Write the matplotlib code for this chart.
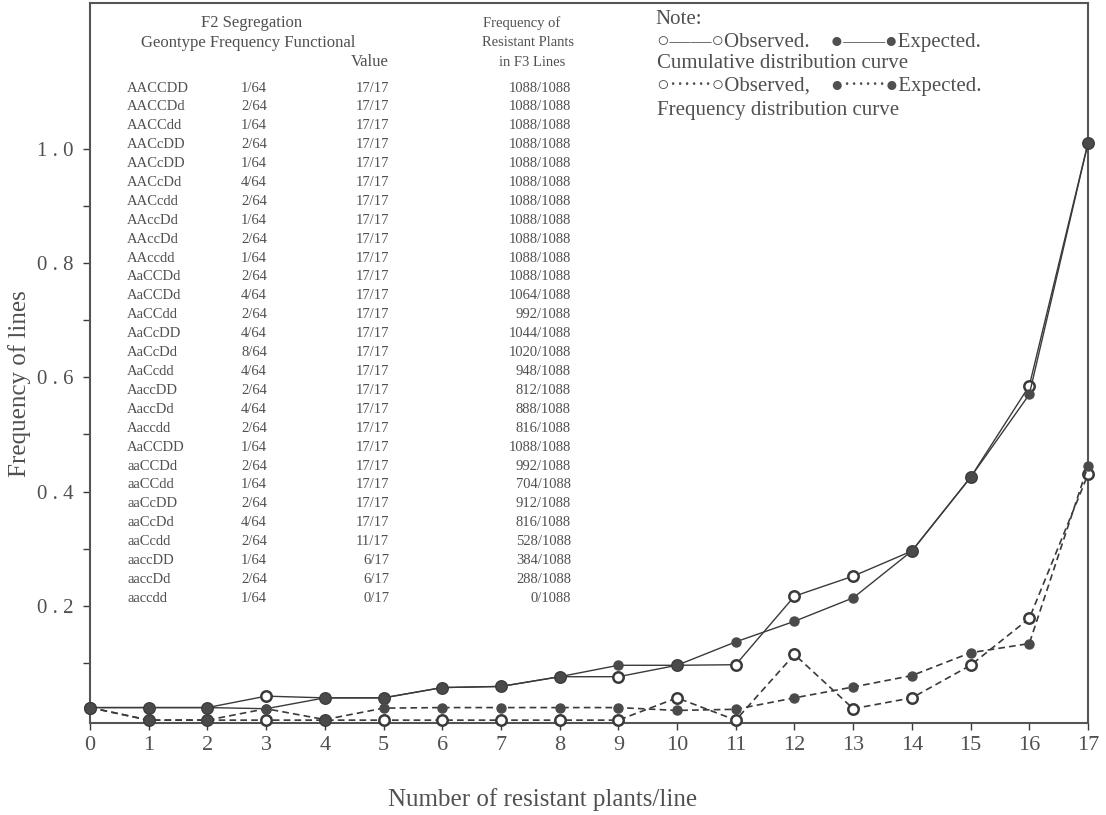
import numpy as np
import matplotlib
matplotlib.use("Agg")
import matplotlib.pyplot as plt
from matplotlib.ticker import MultipleLocator, FixedLocator

plt.rcParams["font.family"] = ["Liberation Serif", "DejaVu Sans"]

# number of resistant plants per line
x = np.arange(0, 18)

# cumulative distribution curves
cum_obs = [0.022, 0.022, 0.022, 0.042, 0.039, 0.039, 0.057, 0.059, 0.076, 0.076,
           0.096, 0.097, 0.217, 0.252, 0.296, 0.425, 0.585, 1.01]
cum_exp = [0.022, 0.022, 0.022, 0.020, 0.039, 0.039, 0.057, 0.059, 0.076, 0.096,
           0.096, 0.137, 0.173, 0.214, 0.296, 0.425, 0.570, 1.01]
# frequency distribution curves
frq_obs = [0.022, 0.0, 0.0, 0.0, 0.0, 0.0, 0.0, 0.0, 0.0, 0.0,
           0.039, 0.0, 0.115, 0.020, 0.039, 0.096, 0.178, 0.43]
frq_exp = [0.022, 0.0, 0.0, 0.020, 0.001, 0.021, 0.022, 0.022, 0.022, 0.022,
           0.017, 0.019, 0.039, 0.058, 0.078, 0.118, 0.134, 0.445]

# table of F2 segregation
genotypes = ["AACCDD", "AACCDd", "AACCdd", "AACcDD", "AACcDD", "AACcDd", "AACcdd",
             "AAccDd", "AAccDd", "AAccdd", "AaCCDd", "AaCCDd", "AaCCdd", "AaCcDD",
             "AaCcDd", "AaCcdd", "AaccDD", "AaccDd", "Aaccdd", "AaCCDD", "aaCCDd",
             "aaCCdd", "aaCcDD", "aaCcDd", "aaCcdd", "aaccDD", "aaccDd", "aaccdd"]
freqs = ["1/64", "2/64", "1/64", "2/64", "1/64", "4/64", "2/64", "1/64", "2/64", "1/64",
         "2/64", "4/64", "2/64", "4/64", "8/64", "4/64", "2/64", "4/64", "2/64", "1/64",
         "2/64", "1/64", "2/64", "4/64", "2/64", "1/64", "2/64", "1/64"]
func_vals = ["17/17"] * 24 + ["11/17", "6/17", "6/17", "0/17"]
f3_freq = ["1088/1088"] * 11 + ["1064/1088", "992/1088", "1044/1088", "1020/1088",
           "948/1088", "812/1088", "888/1088", "816/1088", "1088/1088", "992/1088",
           "704/1088", "912/1088", "816/1088", "528/1088", "384/1088", "288/1088",
           "0/1088"]

W, H = 1106, 815
fig = plt.figure(figsize=(W / 100, H / 100), dpi=100)
ax = fig.add_axes([90 / W, 1 - 723 / H, 998 / W, 720 / H])

lc = "#3a3a3a"
tc = "#505050"

dash = (0, (4, 2.5))
ax.plot(x, cum_obs, color=lc, lw=1.0, marker="o", ms=7.5, mfc="white", mec=lc, mew=1.8,
        clip_on=False, zorder=3)
ax.plot(x, cum_exp, color=lc, lw=1.0, marker="o", ms=6.5, mfc="#4a4a4a", mec="#4a4a4a",
        clip_on=False, zorder=4)
ax.plot(x, frq_obs, color=lc, lw=1.2, ls=dash, marker="o", ms=7.5, mfc="white", mec=lc,
        mew=1.8, clip_on=False, zorder=3)
ax.plot(x, frq_exp, color=lc, lw=1.2, ls=dash, marker="o", ms=6.5, mfc="#4a4a4a",
        mec="#4a4a4a", clip_on=False, zorder=4)

ax.set_xlim(0, 17)
ax.set_ylim(-0.005, 1.255)
ax.xaxis.set_major_locator(MultipleLocator(1))
ax.yaxis.set_major_locator(FixedLocator([0.2, 0.4, 0.6, 0.8, 1.0]))
ax.yaxis.set_minor_locator(FixedLocator([0.1, 0.3, 0.5, 0.7, 0.9]))
ax.set_yticklabels(["0 . 2", "0 . 4", "0 . 6", "0 . 8", "1 . 0"])
ax.tick_params(axis="both", which="both", direction="out", length=5, width=1,
               color=lc, labelcolor=tc, labelsize=16)
ax.tick_params(axis="y", labelsize=15, pad=7)
ax.tick_params(axis="x", pad=4)
for s in ax.spines.values():
    s.set_color("#555555")
    s.set_linewidth(1.5)

ax.set_xlabel("Number of resistant plants/line", fontsize=18, color=tc, va="center")
ax.xaxis.set_label_coords((543 - 90) / 998, (723 - 800) / 720)
ax.set_ylabel("Frequency of lines", fontsize=18, color=tc, va="center")
ax.yaxis.set_label_coords((20 - 90) / 998, (723 - 384) / 720)


def fx(px):
    return (px - 90) / 998


def fy(py):
    return (723 - py) / 720


fs = 10.5
kw = dict(transform=ax.transAxes, fontsize=fs, color=tc, va="center")
hk = dict(kw, fontsize=12)
ax.text(fx(252), fy(23), "F2 Segregation", ha="center", **hk)
ax.text(fx(248), fy(43), "Geontype Frequency Functional", ha="center", **hk)
ax.text(fx(389), fy(62), "Value", ha="right", **hk)
ax.text(fx(522), fy(23), "Frequency of", ha="center", **kw)
ax.text(fx(528), fy(43), "Resistant Plants", ha="center", **kw)
ax.text(fx(532), fy(62), "in F3 Lines", ha="center", **kw)
for i, (g, f, v, r) in enumerate(zip(genotypes, freqs, func_vals, f3_freq)):
    yy = fy(88 + i * 18.9)
    ax.text(fx(127), yy, g, ha="left", **kw)
    ax.text(fx(254), yy, f, ha="center", **kw)
    ax.text(fx(389), yy, v, ha="right", **kw)
    ax.text(fx(571), yy, r, ha="right", **kw)

nk = dict(transform=ax.transAxes, fontsize=15, color=tc, va="center", ha="left")
ax.text(fx(655), fy(19), "Note:", **nk)
ax.text(fx(657), fy(42), "○——○Observed.    ●——●Expected.", **nk)
ax.text(fx(657), fy(64), "Cumulative distribution curve", **nk)
ax.text(fx(657), fy(87), "○······○Observed,    ●······●Expected.", **nk)
ax.text(fx(657), fy(110), "Frequency distribution curve", **nk)

fig.savefig("out.png", dpi=100, facecolor="white")
